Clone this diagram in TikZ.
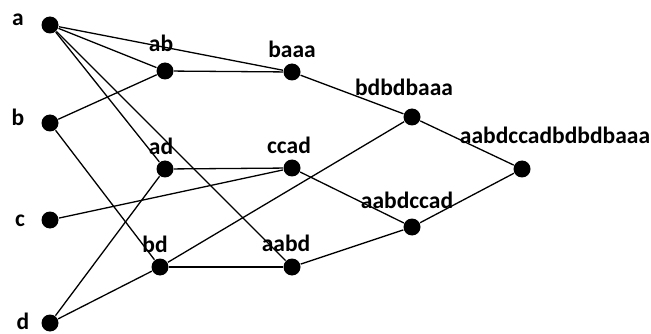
\documentclass[tikz,border=0pt]{standalone}
\usepackage{fontspec}
\setmainfont{Carlito}
\begin{document}
\begin{tikzpicture}[x=1pt,y=-1pt,line width=1.3pt,
        dot/.style={circle,fill=black,inner sep=0pt,minimum size=17pt},
        lbl/.style={font=\bfseries\fontsize{23.5}{26}\selectfont,inner sep=0pt}]
        \useasboundingbox (0,0) rectangle (651,334);
        % leaves
        \node[dot] (a) at (50,25) {};
        \node[dot] (b) at (50,123) {};
        \node[dot] (c) at (50,220) {};
        \node[dot] (d) at (50,323) {};
        % inner nodes
        \node[dot] (ab) at (165,71) {};
        \node[dot] (ad) at (165,169) {};
        \node[dot] (bd) at (160,267) {};
        \node[dot] (baaa) at (292,72) {};
        \node[dot] (ccad) at (292,168) {};
        \node[dot] (aabd) at (292,267) {};
        \node[dot] (bdbdbaaa) at (412,117) {};
        \node[dot] (aabdccad) at (412,227) {};
        \node[dot] (all) at (522,169) {};
        % labels
        \node[lbl] (la) at (18,20) {a};
        \node[lbl] (lb) at (18,117) {b};
        \node[lbl] (lc) at (20,221) {c};
        \node[lbl] (ld) at (23,321) {d};
        \node[lbl] (lab) at (161,43) {ab};
        \node[lbl] (lad) at (161,146) {ad};
        \node[lbl] (lbd) at (155,244) {bd};
        \node[lbl] (lbaaa) at (292,49) {baaa};
        \node[lbl] (lccad) at (289,145) {ccad};
        \node[lbl] (laabd) at (286,243) {aabd};
        \node[lbl] (lbdbdbaaa) at (404,87) {bdbdbaaa};
        \node[lbl] (laabdccad) at (407,200) {aabdccad};
        \node[lbl] (lall) at (555,135) {aabdccadbdbdbaaa};
        % edges
        \foreach \p/\q in {a/ab,a/baaa,a/ad,a/aabd,b/ab,b/bd,c/ccad,d/ad,d/bd,
                ab/baaa,ad/ccad,bd/aabd,bd/bdbdbaaa,baaa/bdbdbaaa,
                ccad/aabdccad,aabd/aabdccad,bdbdbaaa/all,aabdccad/all}
        \draw (\p) -- (\q);
    \end{tikzpicture}
\end{document}
